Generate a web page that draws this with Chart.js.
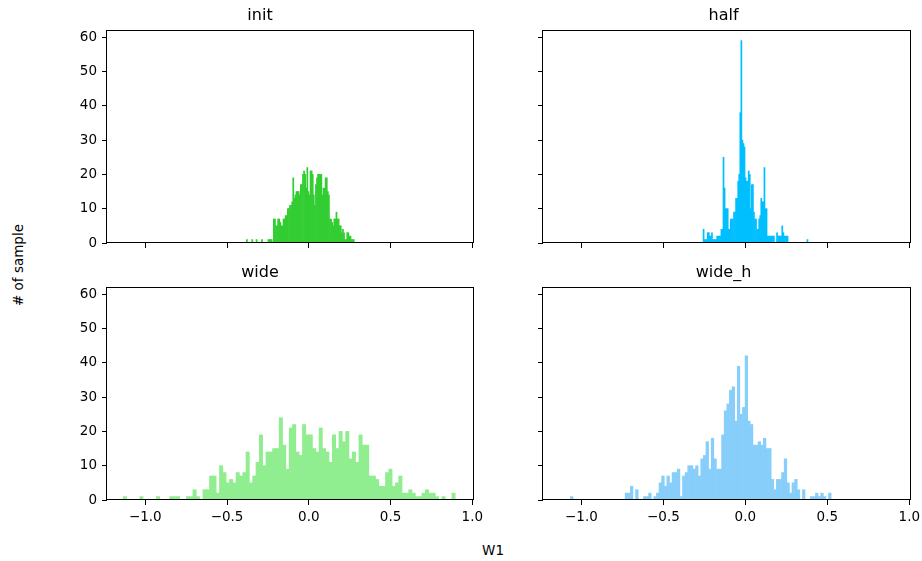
<!DOCTYPE html>
<html><head><meta charset="utf-8">
<script src="https://cdn.jsdelivr.net/npm/chart.js@4.4.0/dist/chart.umd.min.js"></script>
<style>
html,body{margin:0;padding:0;background:#fff;width:922px;height:561px;overflow:hidden;font-family:"DejaVu Sans",sans-serif;}
canvas{position:absolute;}
#ylab{position:absolute;left:18px;top:265px;transform:translate(-50%,-50%) rotate(-90deg);font-size:13.5px;white-space:nowrap;color:#000;}
#xlab{position:absolute;left:493px;top:550px;transform:translate(-50%,-50%);font-size:13.5px;color:#000;}
</style></head><body>
<canvas id="c0" width="442" height="257" style="left:47px;top:0px"></canvas>
<canvas id="c1" width="389" height="257" style="left:537px;top:0px"></canvas>
<canvas id="c2" width="442" height="273" style="left:47px;top:257px"></canvas>
<canvas id="c3" width="389" height="273" style="left:537px;top:257px"></canvas>
<div id="ylab"># of sample</div>
<div id="xlab">W1</div>
<script>
// ---- data (histogram counts, 100 bins each) ----
const panelTitles = ["init", "half", "wide", "wide_h"];
const panelColors = ["#32CD32", "#00BFFF", "#90EE90", "#87CEFA"];
// first bin edge and bin width of each histogram
const binStarts = [-0.382, -0.258, -1.135, -1.067];
const binWidths = [0.0066, 0.0064, 0.0203, 0.0159];

const initCounts = [
  1,0,0,0,0,1,0,0,0,1,0,0,0,0,1,0,0,0,0,0,1,1,1,1,0,
  7,7,5,5,7,7,6,5,5,7,7,8,8,10,10,11,11,12,19,13,14,15,15,15,14,
  17,17,20,21,20,16,22,15,14,21,21,20,14,11,17,19,20,20,20,20,14,16,16,19,19,
  15,14,7,7,6,5,7,7,9,7,7,5,5,3,4,3,1,1,3,3,2,2,1,1,1
];
const halfCounts = [
  4,1,1,1,3,3,2,2,3,1,1,1,1,2,2,2,2,4,4,25,16,10,10,10,4,
  4,7,7,7,9,9,13,13,18,20,38,59,30,29,28,19,18,18,21,20,10,17,17,9,7,
  7,4,4,7,8,13,12,12,22,10,10,2,2,2,2,2,2,2,0,0,3,2,2,2,2,
  5,3,2,2,2,2,0,0,0,0,0,0,0,0,0,0,0,0,0,0,0,0,0,0,1
];
const wideCounts = [
  1,0,0,0,0,1,0,0,0,0,1,0,0,0,1,1,1,0,0,1,1,3,1,0,3,
  3,7,7,2,10,8,5,6,5,8,7,8,14,5,7,11,19,10,14,14,15,15,24,16,9,
  21,22,14,13,22,19,19,15,14,21,15,14,11,19,15,20,17,20,12,14,11,19,16,16,7,
  7,6,4,4,8,9,4,5,7,2,2,3,2,1,1,2,3,2,2,1,0,1,0,0,2
];
const wideHCounts = [
  1,0,0,0,0,0,0,0,0,0,0,0,0,0,0,0,0,0,0,0,0,2,2,4,0,
  3,0,0,1,1,2,0,1,2,5,7,4,7,5,8,8,9,1,7,8,10,10,9,10,7,
  12,13,17,9,18,12,9,9,19,26,28,32,33,23,39,25,27,42,23,22,16,16,17,16,18,
  15,15,6,3,6,6,8,12,5,2,5,6,3,0,3,0,0,1,1,2,1,2,1,0,2
];
const allCounts = [initCounts, halfCounts, wideCounts, wideHCounts];

const xTickValues = [-1.0, -0.5, 0.0, 0.5, 1.0];
const yTickValues = [0, 10, 20, 30, 40, 50, 60];
const xRange = [-1.234, 1.004];
const yRange = [0, 62.1];

// ---- drawing ----
Chart.defaults.font.family = "DejaVu Sans";
Chart.defaults.color = "#000";

const frame = {
  id: 'frame',
  afterDraw(chart) {
    const a = chart.chartArea, ctx = chart.ctx;
    ctx.save();
    ctx.strokeStyle = '#000';
    ctx.lineWidth = 1;
    const l = Math.round(a.left) - 0.5, t = Math.round(a.top) + 0.5;
    const r = Math.round(a.right) + 0.5, b = Math.round(a.bottom) - 0.5;
    ctx.strokeRect(l, t, r - l, b - t);
    ctx.restore();
  }
};

function fmt(v) {
  return v.toFixed(1).replace('-', '\u2212');
}

function makePanel(idx, showX, showY) {
  const counts = allCounts[idx];
  const data = counts.map((c, i) => ({ x: binStarts[idx] + binWidths[idx] * (i + 0.5), y: c }));
  new Chart(document.getElementById('c' + idx), {
    type: 'bar',
    data: { datasets: [{ data, backgroundColor: panelColors[idx], borderWidth: 0,
      barPercentage: 1, categoryPercentage: 1, grouped: false }] },
    options: {
      responsive: false, animation: false, events: [],
      layout: { padding: { top: 4, right: 16, left: 0, bottom: showX ? 0 : 8 } },
      plugins: {
        legend: { display: false }, tooltip: { enabled: false },
        title: { display: true, text: panelTitles[idx], color: '#000',
          font: { size: 16, weight: 'normal', lineHeight: '24px' }, padding: { top: 0, bottom: 2 } }
      },
      scales: {
        x: {
          type: 'linear', min: xRange[0], max: xRange[1], offset: false,
          grid: { drawOnChartArea: false, drawTicks: true, tickLength: 5, color: '#000', offset: false },
          border: { display: false },
          afterBuildTicks: s => { s.ticks = xTickValues.map(v => ({ value: v })); },
          ticks: { display: showX, padding: 4, color: '#000', font: { size: 13.5 },
            maxRotation: 0, autoSkip: false, callback: v => fmt(v) },
          afterFit: s => { s.height = showX ? 30 : 6; }
        },
        y: {
          min: yRange[0], max: yRange[1],
          grid: { drawOnChartArea: false, drawTicks: true, tickLength: 5, color: '#000' },
          border: { display: false },
          afterBuildTicks: s => { s.ticks = yTickValues.map(v => ({ value: v })); },
          ticks: { display: showY, padding: 5, color: '#000', font: { size: 13.5 },
            autoSkip: false, callback: v => String(v) },
          afterFit: s => { s.width = showY ? 60 : 6; }
        }
      }
    },
    plugins: [frame]
  });
}

makePanel(0, false, true);
makePanel(1, false, false);
makePanel(2, true, true);
makePanel(3, true, false);
</script>
</body></html>
